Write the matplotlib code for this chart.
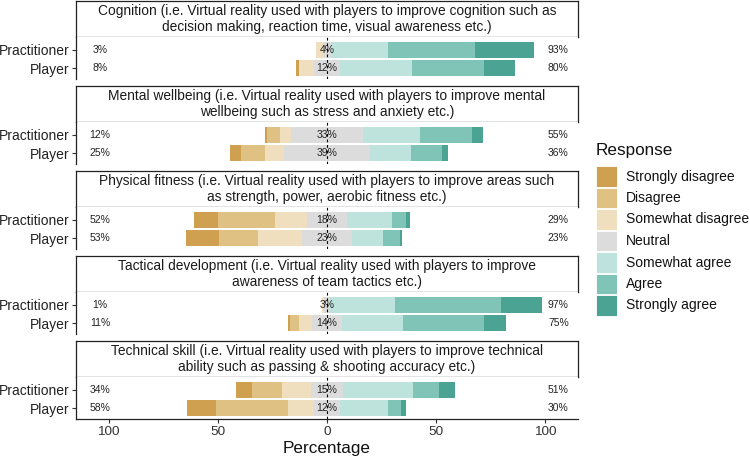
import matplotlib
matplotlib.use("Agg")
import matplotlib.pyplot as plt
from matplotlib.patches import Rectangle

plt.rcParams['font.family'] = ['Liberation Sans', 'DejaVu Sans']

responses = ["Strongly disagree", "Disagree", "Somewhat disagree", "Neutral",
             "Somewhat agree", "Agree", "Strongly agree"]
colors = ["#CFA04F", "#DFC283", "#F0DFBF", "#DCDCDC", "#BEE3DD", "#80C4B8", "#4BA393"]
groups = ["Practitioner", "Player"]

titles = [
    "Cognition (i.e. Virtual reality used with players to improve cognition such as\ndecision making, reaction time, visual awareness etc.)",
    "Mental wellbeing (i.e. Virtual reality used with players to improve mental\nwellbeing such as stress and anxiety etc.)",
    "Physical fitness (i.e. Virtual reality used with players to improve areas such\nas strength, power, aerobic fitness etc.)",
    "Tactical development (i.e. Virtual reality used with players to improve\nawareness of team tactics etc.)",
    "Technical skill (i.e. Virtual reality used with players to improve technical\nability such as passing & shooting accuracy etc.)",
]

# values in % ordered as responses
cognition_practitioner = [0, 0, 3, 4, 26, 40, 27]
cognition_player = [1, 0, 7, 12, 33, 33, 14]
mental_practitioner = [1, 6, 5, 33, 26, 24, 5]
mental_player = [5, 11, 9, 39, 19, 14, 3]
physical_practitioner = [11, 26, 15, 18, 21, 6, 2]
physical_player = [15, 18, 20, 23, 14, 8, 1]
tactical_practitioner = [0, 0, 1, 3, 29.5, 48.5, 19]
tactical_player = [1, 4, 6, 14, 28, 37, 10]
technical_practitioner = [7, 14, 13, 15, 32, 12, 7]
technical_player = [13, 33, 12, 12, 22, 6, 2]

panels = [
    (cognition_practitioner, cognition_player),
    (mental_practitioner, mental_player),
    (physical_practitioner, physical_player),
    (tactical_practitioner, tactical_player),
    (technical_practitioner, technical_player),
]

xticks = [-100, -50, 0, 50, 100]
xticklabels = ["100", "50", "0", "50", "100"]

W, H = 750, 458
fig = plt.figure(figsize=(W / 100, H / 100), dpi=100)

L, R = 76, 578
period = 85
for i, (prac, play) in enumerate(panels):
    s_top = 1 + period * i
    s_bot = 37 + period * i
    p_bot = 79 + period * i
    # strip
    sax = fig.add_axes([L / W, 1 - s_bot / H, (R - L) / W, (s_bot - s_top) / H])
    sax.set_xticks([]); sax.set_yticks([])
    for sp in sax.spines.values():
        sp.set_color("#222222"); sp.set_linewidth(0.9)
    sax.text(0.5, 0.5, titles[i], ha="center", va="center", fontsize=9.9,
             color="#1a1a1a", linespacing=1.1, transform=sax.transAxes)
    # panel
    ax = fig.add_axes([L / W, 1 - p_bot / H, (R - L) / W, (p_bot - s_bot) / H])
    ypos = {"Practitioner": 2, "Player": 1}
    for g, vals in zip(groups, (prac, play)):
        y = ypos[g]
        neutral = vals[3]
        # negative side: somewhat disagree nearest centre, then disagree, then strongly disagree
        left = -neutral / 2
        for k in [2, 1, 0]:
            left -= vals[k]
            ax.barh(y, vals[k], left=left, height=0.9, color=colors[k], linewidth=0)
        ax.barh(y, neutral, left=-neutral / 2, height=0.9, color=colors[3], linewidth=0)
        start = neutral / 2
        for k in [4, 5, 6]:
            ax.barh(y, vals[k], left=start, height=0.9, color=colors[k], linewidth=0)
            start += vals[k]
        low = sum(vals[:3]); high = sum(vals[4:])
        ax.text(-104, y, f"{round(low)}%", ha="center", va="center", fontsize=7.5, color="#222222")
        ax.text(106, y, f"{round(high)}%", ha="center", va="center", fontsize=7.5, color="#222222")
        ax.text(0, y, f"{round(neutral)}%", ha="center", va="center", fontsize=7.5, color="#222222")
    ax.axvline(0, color="black", linestyle=(0, (2.5, 2.5)), linewidth=0.8, zorder=3)
    ax.set_xlim(-115, 115)
    ax.set_ylim(0.4, 2.7)
    ax.set_yticks([2, 1])
    ax.set_yticklabels(groups, fontsize=10, color="#222222")
    ax.tick_params(axis="y", length=3, width=0.8, color="#333333", pad=1.5)
    for sp in ["top", "right"]:
        ax.spines[sp].set_visible(False)
    ax.spines["left"].set_linewidth(0.9)
    ax.spines["left"].set_color("#222222")
    if i < 4:
        ax.spines["bottom"].set_visible(False)
        ax.set_xticks([])
    else:
        ax.spines["bottom"].set_linewidth(0.9)
        ax.spines["bottom"].set_color("#222222")
        ax.set_xticks(xticks)
        ax.set_xticklabels(xticklabels, fontsize=9.7, color="#333333")
        ax.tick_params(axis="x", length=3, width=0.8, color="#333333", pad=2)
        ax.set_xlabel("Percentage", fontsize=12.3, labelpad=2, color="#111111")

# legend
lax = fig.add_axes([0, 0, 1, 1])
lax.set_xlim(0, W); lax.set_ylim(H, 0); lax.axis("off")
lax.text(596, 150, "Response", ha="left", va="center", fontsize=12.3, color="#111111")
for k, (lab, c) in enumerate(zip(responses, colors)):
    top = 166 + 21.5 * k
    lax.add_patch(Rectangle((596, top), 20.5, 20.5, facecolor=c, edgecolor="white", linewidth=0.6))
    lax.text(626, top + 10.5, lab, ha="left", va="center", fontsize=10, color="#111111")

fig.savefig("out.png", dpi=100)
